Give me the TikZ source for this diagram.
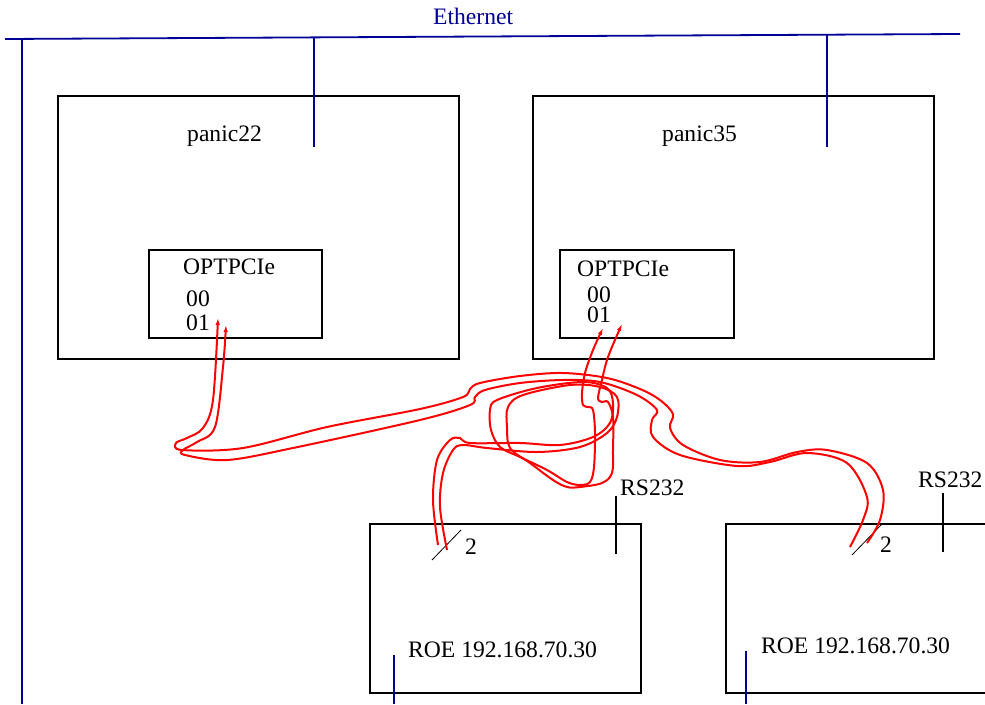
\documentclass[tikz,border=0pt]{standalone}
\usepackage{fontspec}
\setmainfont{Liberation Serif}
\usetikzlibrary{arrows.meta}
\definecolor{ethblue}{RGB}{0,0,150}
\begin{document}
\begin{tikzpicture}[x=1pt,y=-1pt,
  font=\fontsize{23.6}{28}\selectfont,
  box/.style={draw, line width=1.8pt, inner sep=0pt, anchor=north west},
  txt/.style={anchor=base west, inner sep=0pt},
  eth/.style={draw=ethblue, line width=1.8pt},
  cable/.style={draw=red, line width=2pt, -{Latex[length=7pt,width=4.5pt]}},
  tick/.style={draw=black, line width=1.8pt},
  slashline/.style={draw=black, line width=0.8pt}]
\useasboundingbox (0,0) rectangle (985,704);

% boxes
\node[box, minimum width=401pt, minimum height=263pt] (p22) at (57,95) {};
\node[box, minimum width=401pt, minimum height=263pt] (p35) at (532,95) {};
\node[box, minimum width=173pt, minimum height=88pt] (opt1) at (148,249) {};
\node[box, minimum width=174pt, minimum height=88pt] (opt2) at (559,249) {};
\node[box, minimum width=271pt, minimum height=169pt] (roe1) at (369,523) {};
\node[box, minimum width=280pt, minimum height=169pt] (roe2) at (725,523) {};

% ethernet
\coordinate (ethL) at (5,39);
\coordinate (ethR) at (960,34);
\draw[eth] (ethL) -- (ethR);
\node[txt, text=ethblue] (ethlbl) at (433,24) {Ethernet};
\coordinate (e0t) at (22,38.9);  \coordinate (e0b) at (22,704);
\coordinate (e1t) at (314,37.3); \coordinate (e1b) at (314,147);
\coordinate (e2t) at (827,35.2); \coordinate (e2b) at (827,147);
\coordinate (e3t) at (394,655);  \coordinate (e3b) at (394,704);
\coordinate (e4t) at (746,651);  \coordinate (e4b) at (746,704);
\draw[eth] (e0t) -- (e0b);
\draw[eth] (e1t) -- (e1b);
\draw[eth] (e2t) -- (e2b);
\draw[eth] (e3t) -- (e3b);
\draw[eth] (e4t) -- (e4b);

% labels
\node[txt] (l22) at (187,141) {panic22};
\node[txt] (l35) at (662,141) {panic35};
\node[txt] (o1) at (183,274) {OPTPCIe};
\node[txt] (o1a) at (186,306) {00};
\node[txt] (o1b) at (186,330) {01};
\node[txt] (o2) at (577,276) {OPTPCIe};
\node[txt] (o2a) at (587,302) {00};
\node[txt] (o2b) at (587,322) {01};
\node[txt] (r1) at (408,657) {ROE 192.168.70.30};
\node[txt] (r2) at (761,653) {ROE 192.168.70.30};
\node[txt] (rs1) at (620,495) {RS232};
\node[txt] (rs2) at (918,487) {RS232};
\node[txt] (n1) at (465,554) {2};
\node[txt] (n2) at (880,552) {2};

% RS232 ticks and slashes
\coordinate (rs1t) at (616,496); \coordinate (rs1b) at (616,554);
\coordinate (rs2t) at (943,493); \coordinate (rs2b) at (943,552);
\draw[tick] (rs1t) -- (rs1b);
\draw[tick] (rs2t) -- (rs2b);
\coordinate (s1a) at (432,560); \coordinate (s1b) at (461,530);
\coordinate (s2a) at (852,555); \coordinate (s2b) at (882,524);
\draw[slashline] (s1a) -- (s1b);
\draw[slashline] (s2a) -- (s2b);

% cable end points
\coordinate (p22a) at (218,318);
\coordinate (p22b) at (226,325);
\coordinate (p35a) at (603,328);
\coordinate (p35b) at (622,324);
\coordinate (r1a) at (438,545);
\coordinate (r1b) at (447,550);
\coordinate (r2a) at (867,543);
\coordinate (r2b) at (850,547);

% cable panic22 -> ROE 2
\draw[cable] plot[smooth, tension=0.55] coordinates {(r2a) (880,520) (883,490) (867,463) (827,450) (797,452) (760,462) (720,460) (683,445) (670,428) (673,414) (660,400) (640,389) (607,378) (563,373) (520,376) (480,383) (470,389) (463,397) (420,409) (327,427) (243,448) (182,450) (176,443) (187,438) (203,428) (213,400) (p22a)};
\draw[cable] plot[smooth, tension=0.55] coordinates {(r2b) (863,520) (867,497) (847,463) (807,453) (770,462) (737,466) (680,455) (653,437) (652,420) (657,410) (637,395) (600,382) (563,380) (520,383) (485,390) (475,397) (470,405) (420,420) (293,448) (227,460) (185,455) (183,450) (197,442) (215,427) (223,367) (p22b)};

% cable panic35 -> ROE 1
\draw[cable] plot[smooth, tension=0.55] coordinates {(r1a) (433,500) (437,460) (450,440) (460,438) (470,443) (520,443) (560,445) (593,437) (610,423) (613,403) (607,388) (583,382) (537,388) (497,400) (490,410) (491,430) (500,447) (520,457) (547,470) (567,482) (580,485) (590,482) (594,467) (595,433) (593,410) (588,407) (583,405) (582,393) (585,373) (593,350) (p35a)};
\draw[cable] plot[smooth, tension=0.55] coordinates {(r1b) (440,507) (443,473) (453,450) (463,445) (487,448) (537,452) (580,447) (607,433) (617,417) (617,397) (600,387) (570,385) (523,395) (508,407) (507,427) (510,448) (530,463) (553,480) (567,487) (580,487) (602,483) (612,473) (613,450) (613,417) (608,402) (602,402) (598,398) (602,380) (608,357) (p35b)};
\end{tikzpicture}
\end{document}
